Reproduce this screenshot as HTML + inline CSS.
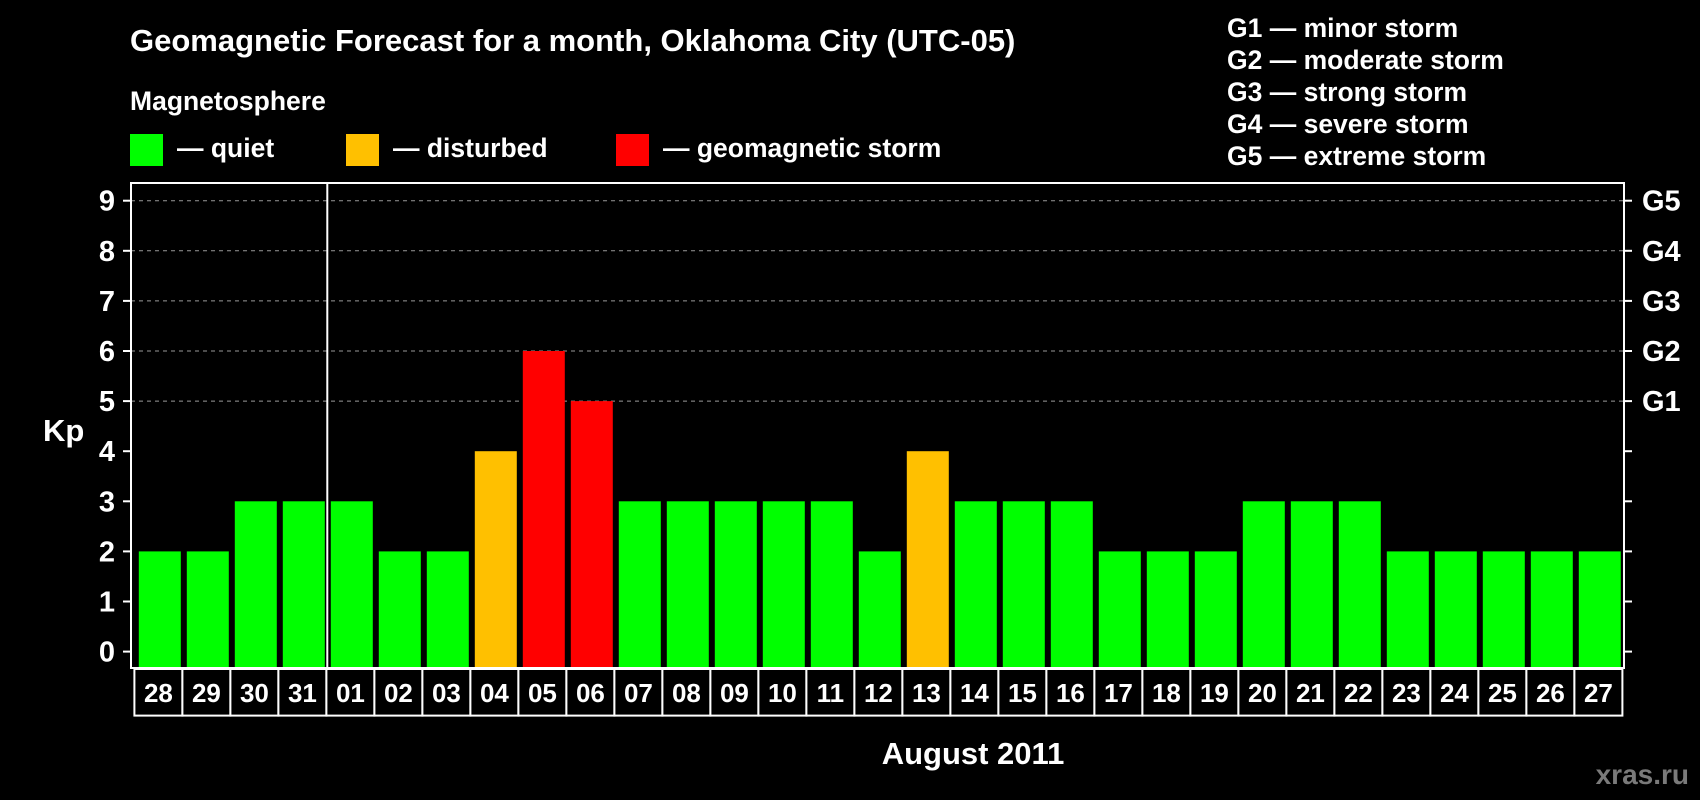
<!DOCTYPE html>
<html><head><meta charset="utf-8"><style>
html,body{margin:0;padding:0;background:#000;}
svg{display:block;font-family:"Liberation Sans",sans-serif;font-weight:bold;}
</style></head><body>
<svg id="chart" width="1700" height="800" viewBox="0 0 1700 800">
<rect x="0" y="0" width="1700" height="800" fill="#000"/>
<text x="130" y="51" fill="#fff" font-size="31">Geomagnetic Forecast for a month, Oklahoma City (UTC-05)</text>
<text x="130" y="110" fill="#fff" font-size="26.5">Magnetosphere</text>
<rect x="130" y="134" width="33" height="32" fill="#00ff00"/>
<text x="177" y="157" fill="#fff" font-size="26.5">— quiet</text>
<rect x="346" y="134" width="33" height="32" fill="#ffc000"/>
<text x="393" y="157" fill="#fff" font-size="26.5">— disturbed</text>
<rect x="616" y="134" width="33" height="32" fill="#ff0000"/>
<text x="663" y="157" fill="#fff" font-size="26.5">— geomagnetic storm</text>
<g fill="#fff" font-size="26.5">
<text x="1227" y="37">G1 — minor storm</text>
<text x="1227" y="69">G2 — moderate storm</text>
<text x="1227" y="101">G3 — strong storm</text>
<text x="1227" y="133">G4 — severe storm</text>
<text x="1227" y="165">G5 — extreme storm</text>
</g>
<text x="43" y="441" fill="#fff" font-size="31">Kp</text>
<text x="973" y="764" fill="#fff" font-size="31" text-anchor="middle">August 2011</text>
<text x="1689" y="784" fill="#7a7a7a" font-size="28" text-anchor="end">xras.ru</text>
<g id="grid"></g>
<g id="bars"></g>
<g id="axes"></g>
<g id="dates"></g>
</svg>
<script>
const days = ["28","29","30","31","01","02","03","04","05","06","07","08","09","10","11","12","13","14","15","16","17","18","19","20","21","22","23","24","25","26","27"];
const kpValues = [2,2,3,3,3,2,2,4,6,5,3,3,3,3,3,2,4,3,3,3,2,2,2,3,3,3,2,2,2,2,2];
const yTicks = [0,1,2,3,4,5,6,7,8,9];
const gridLevels = [5,6,7,8,9];
const gLabels = ["G1","G2","G3","G4","G5"];
const monthStartIndex = 4;

const NS = "http://www.w3.org/2000/svg";
const plotL = 131, plotR = 1624, plotT = 183, plotB = 668;
const yZero = 651.6, unitPx = 50.1;
const xStart = 138.8, stepPx = 48, barW = 42;
function yScale(v){ return yZero - v*unitPx; }
function xScale(i){ return xStart + i*stepPx; }
function colorFor(v){ return v >= 5 ? "#ff0000" : (v >= 4 ? "#ffc000" : "#00ff00"); }
function mk(tag, attrs, parent){ const e=document.createElementNS(NS,tag); for(const k in attrs) e.setAttribute(k, attrs[k]); parent.appendChild(e); return e; }

const gridG = document.getElementById("grid");
gridLevels.forEach(function(v){
  const l = mk("line",{x1:plotL,x2:plotR,y1:yScale(v),y2:yScale(v),stroke:"#999","stroke-width":1,"stroke-dasharray":"4,4"},gridG);
  
  
});

const barsG = document.getElementById("bars");
kpValues.forEach(function(v,i){
  const r = mk("rect",{x:xScale(i),y:yScale(v),width:barW,height:(plotB-1)-yScale(v),fill:colorFor(v)},barsG);
  
  
});

const axesG = document.getElementById("axes");
const frame = mk("rect",{x:plotL,y:plotT,width:plotR-plotL,height:plotB-plotT,fill:"none",stroke:"#fff","stroke-width":2},axesG);


const sep = mk("line",{x1:xScale(monthStartIndex)-3.5,x2:xScale(monthStartIndex)-3.5,y1:plotT,y2:plotB,stroke:"#fff","stroke-width":2},axesG);


yTicks.forEach(function(v){
  const t = mk("line",{x1:plotL-8,x2:plotL,y1:yScale(v),y2:yScale(v),stroke:"#fff","stroke-width":2},axesG);
  
  
  const t2 = mk("line",{x1:plotR,x2:plotR+8,y1:yScale(v),y2:yScale(v),stroke:"#fff","stroke-width":2},axesG);
  
  
  const lb = mk("text",{x:115,y:yScale(v)+10,fill:"#fff","font-size":29,"text-anchor":"end"},axesG);
  lb.textContent = String(v);
  
  
});
gridLevels.forEach(function(v,i){
  const lb = mk("text",{x:1642,y:yScale(v)+10,fill:"#fff","font-size":29},axesG);
  lb.textContent = gLabels[i];
  
  
});

const datesG = document.getElementById("dates");
days.forEach(function(d,i){
  const bx = xScale(i) - 4.4;
  const r = mk("rect",{x:bx,y:669,width:stepPx,height:46.6,fill:"#000",stroke:"#fff","stroke-width":2},datesG);
  
  
  const t = mk("text",{x:bx+stepPx/2,y:702,fill:"#fff","font-size":26,"text-anchor":"middle"},datesG);
  t.textContent = d;
  
  
});
</script>
</body></html>
